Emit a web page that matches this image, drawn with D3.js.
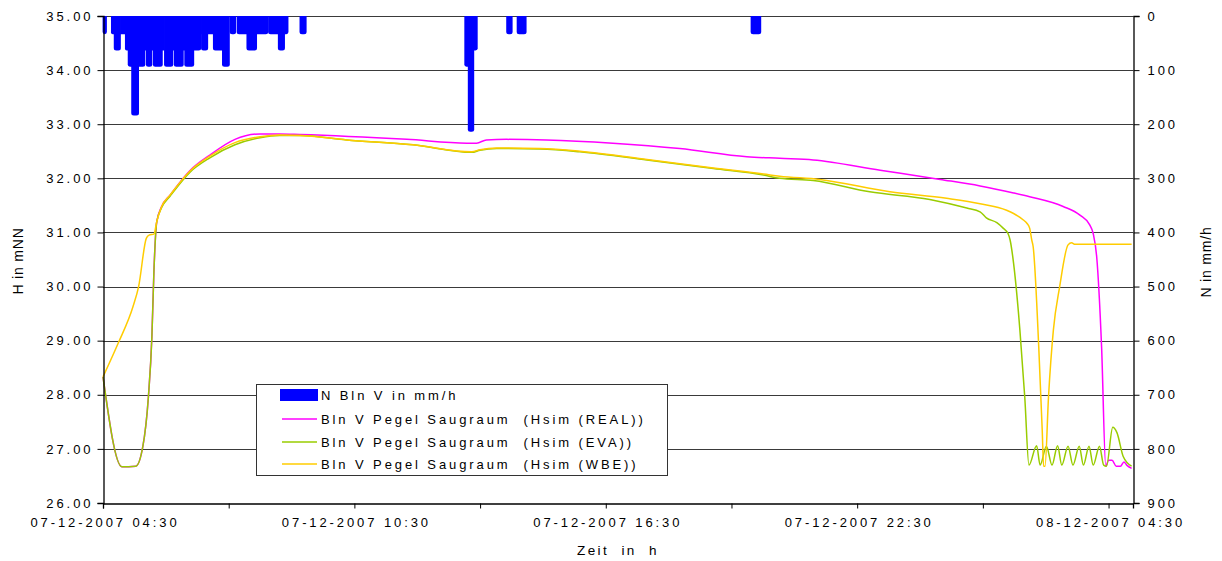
<!DOCTYPE html>
<html>
<head>
<meta charset="utf-8">
<script src="https://cdn.jsdelivr.net/npm/d3@7"></script>
<style>
  html, body { margin: 0; padding: 0; background: #fff; }
  svg { display: block; }
  text { font-family: "Liberation Sans", Arial, sans-serif; fill: #000; }
</style>
</head>
<body>
<svg id="chart" width="1222" height="561"></svg>
<script>
// ---- data ----
// minutes after 07-12-2007 04:30
const rainStart = [0,12,16,25,32,36,41,51,60,62,70,72,85,88,100,102,115,117,130,140,141,150,158,171,182,192,206,220,237,251,260,282,518,523,531,578,593,928];
const rainEnd   = [5,16,25,32,36,41,51,60,62,70,72,85,88,100,102,115,117,130,140,141,150,158,171,181,190,206,220,236,251,260,265,291,523,531,536,586,606,942];
const rainValue = [30,30,60,30,60,90,180,90,60,90,60,90,60,90,60,90,60,90,60,30,60,30,60,90,30,30,60,30,30,60,30,30,90,210,60,30,30,30];

const realT = [0,27,47,57,65,70,73,77,84,96,125,153,189,225,253,282,435,521,535,549,578,635,730,826,922,969,1017,1113,1199,1256,1304,1327,1375,1399,1413,1418,1423,1430,1436,1440,1445,1451,1457,1462,1466,1473];
const realH = [28.33,26.67,26.68,27.04,27.96,29.07,30.31,31.2,31.48,31.69,32.15,32.43,32.72,32.82,32.82,32.81,32.72,32.65,32.65,32.71,32.72,32.71,32.65,32.55,32.40,32.37,32.34,32.15,31.98,31.86,31.73,31.66,31.48,31.32,31.14,30.98,30.55,28.89,26.68,26.79,26.79,26.68,26.68,26.76,26.70,26.64];

const evaT = [0,27,47,57,65,70,73,77,84,96,125,153,189,225,253,282,349,444,528,540,564,626,683,779,874,946,969,1017,1098,1184,1237,1256,1265,1280,1289,1296,1299,1304,1313,1320,1326,1337,1342,1351,1359,1367,1373,1382,1389,1398,1404,1412,1418,1427,1433,1437,1446,1452,1461,1473];
const evaH = [28.33,26.67,26.68,27.04,27.96,29.07,30.31,31.2,31.46,31.67,32.12,32.38,32.62,32.75,32.79,32.79,32.71,32.62,32.48,32.52,32.55,32.54,32.49,32.34,32.18,32.06,32.0,31.96,31.75,31.61,31.45,31.38,31.27,31.18,31.08,30.98,30.86,30.43,29.2,27.96,26.7,27.06,26.7,27.05,26.7,27.06,26.7,27.05,26.7,27.05,26.7,27.05,26.7,27.05,26.7,26.68,27.4,27.3,26.86,26.68];

const wbeT = [0,22,43,51,62,66,73,77,84,96,125,153,189,225,253,282,349,444,528,540,564,626,683,779,874,946,969,1026,1127,1208,1256,1294,1304,1318,1323,1327,1330,1332,1340,1345,1347,1349,1354,1361,1370,1382,1387,1392,1473];
const wbeH = [28.33,28.96,29.63,30.0,30.89,30.95,30.97,31.2,31.48,31.69,32.14,32.41,32.66,32.77,32.8,32.79,32.71,32.62,32.49,32.53,32.56,32.55,32.5,32.35,32.19,32.08,32.04,31.98,31.75,31.63,31.53,31.41,31.35,31.23,31.17,31.08,30.86,30.74,28.89,27.35,26.68,26.68,27.96,29.2,30.0,30.77,30.81,30.78,30.78];

const seriesNames = ["N Bln V in mm/h", "Bln V Pegel Saugraum  (Hsim (REAL))", "Bln V Pegel Saugraum  (Hsim (EVA))", "Bln V Pegel Saugraum  (Hsim (WBE))"];
const seriesColors = ["#0000FF", "#FF00FF", "#99CC00", "#FFCC00"];

const leftTickValues = [26,27,28,29,30,31,32,33,34,35];
const rightTickValues = [0,100,200,300,400,500,600,700,800,900];
const xTickMinutes = [0,180,360,540,720,900,1080,1260,1440];
const xTickLabels = {0:"07-12-2007 04:30", 360:"07-12-2007 10:30", 720:"07-12-2007 16:30", 1080:"07-12-2007 22:30", 1440:"08-12-2007 04:30"};
const endMinute = 1475;

// ---- layout ----
const L = 103, R = 1133, T = 16, B = 503;
const t0 = new Date(2007, 11, 7, 4, 30);
const tm = m => new Date(t0.getTime() + m * 60000);

const x = d3.scaleTime().domain([t0, tm(endMinute)]).range([L, R]);
const yL = d3.scaleLinear().domain([26, 35]).range([B, T]);
const yR = d3.scaleLinear().domain([0, 900]).range([T, B]);

const svg = d3.select("#chart");
const LS = "2.9px";

// grid
svg.append("g").selectAll("line").data(leftTickValues.slice(1)).join("line")
  .attr("x1", L).attr("x2", R)
  .attr("y1", d => Math.round(yL(d)) + 0.5).attr("y2", d => Math.round(yL(d)) + 0.5)
  .attr("stroke", "#3a3a3a").attr("stroke-width", 1);

// rain bars (hanging from the top, rounded bottom corners where exposed)
const rain = rainStart.map((s, i) => ({s, e: rainEnd[i], v: rainValue[i], i}));
function barPath(d) {
  const prev = rain[d.i - 1], next = rain[d.i + 1];
  const roundL = !(prev && prev.e === d.s && prev.v >= d.v);
  const roundR = !(next && next.s === d.e && next.v >= d.v);
  const x0 = x(tm(d.s)) - 0.4, x1 = x(tm(d.e)) + 0.4, top = yR(0), bot = yR(d.v) + 2;
  const r = Math.min(2.5, (x1 - x0) / 2);
  const rl = roundL ? r : 0, rr = roundR ? r : 0;
  return `M${x0},${top}L${x0},${bot - rl}Q${x0},${bot} ${x0 + rl},${bot}L${x1 - rr},${bot}Q${x1},${bot} ${x1},${bot - rr}L${x1},${top}Z`;
}
svg.append("g").selectAll("path").data(rain).join("path")
  .attr("d", barPath)
  .attr("fill", seriesColors[0]);

// lines
const lineGen = d3.line().x(d => x(tm(d[0]))).y(d => yL(d[1])).curve(d3.curveMonotoneX);
const series = [[realT, realH], [evaT, evaH], [wbeT, wbeH]];
series.forEach((s, i) => {
  const pts = s[0].map((t, j) => [t, s[1][j]]);
  svg.append("path").datum(pts).attr("d", lineGen)
    .attr("fill", "none").attr("stroke", seriesColors[i + 1]).attr("stroke-width", 1.5)
    .attr("stroke-linejoin", "round");
});

// axes
const axL = svg.append("g").attr("transform", `translate(${L + 0.5},0)`)
  .call(d3.axisLeft(yL).tickValues(leftTickValues).tickFormat(d3.format(".2f")).tickSize(6).tickPadding(7));
const axR = svg.append("g").attr("transform", `translate(${R + 0.5},0)`)
  .call(d3.axisRight(yR).tickValues(rightTickValues).tickSize(6).tickPadding(8));
const axB = svg.append("g").attr("transform", `translate(0,${B + 0.5})`)
  .call(d3.axisBottom(x).tickValues(xTickMinutes.map(tm)).tickSize(5).tickPadding(9)
    .tickFormat((d, i) => xTickLabels[xTickMinutes[i]] || ""));
[axL, axR, axB].forEach(a => {
  a.select(".domain").attr("stroke", "#000").attr("stroke-width", 1.3);
  a.selectAll(".tick line").attr("stroke", "#000");
  a.selectAll("text").attr("font-size", 13).attr("font-family", '"Liberation Sans", Arial, sans-serif')
    .style("letter-spacing", LS).attr("fill", "#000");
});
axL.selectAll("text").attr("dx", "2.9px");
axB.selectAll("text").attr("dx", "1.5px");

// axis titles
svg.append("text").attr("transform", "translate(23,261) rotate(-90)")
  .attr("text-anchor", "middle").attr("font-size", 14).style("letter-spacing", "0.8px").text("H in mNN");
svg.append("text").attr("transform", "translate(1211,262) rotate(-90)")
  .attr("text-anchor", "middle").attr("font-size", 14).style("letter-spacing", "0.8px").text("N in mm/h");
svg.append("text").attr("x", 618).attr("y", 555).attr("text-anchor", "middle")
  .attr("font-size", 13.5).style("letter-spacing", "2.4px").style("white-space", "pre").text("Zeit  in  h");

// legend
const lg = svg.append("g");
lg.append("rect").attr("x", 256.5).attr("y", 384.5).attr("width", 411).attr("height", 91)
  .attr("fill", "#fff").attr("stroke", "#333").attr("stroke-width", 1);
const rowY = [395, 419, 442, 464];
seriesNames.forEach((n, i) => {
  if (i === 0) {
    lg.append("rect").attr("x", 280).attr("y", rowY[0] - 6).attr("width", 38).attr("height", 12).attr("fill", seriesColors[0]);
  } else {
    lg.append("line").attr("x1", 282).attr("x2", 317).attr("y1", rowY[i]).attr("y2", rowY[i])
      .attr("stroke", seriesColors[i]).attr("stroke-width", 1.5);
  }
  lg.append("text").attr("x", 321).attr("y", rowY[i] + 5).attr("font-size", 13)
    .style("letter-spacing", LS).style("white-space", "pre").text(n);
});
</script>
</body>
</html>
